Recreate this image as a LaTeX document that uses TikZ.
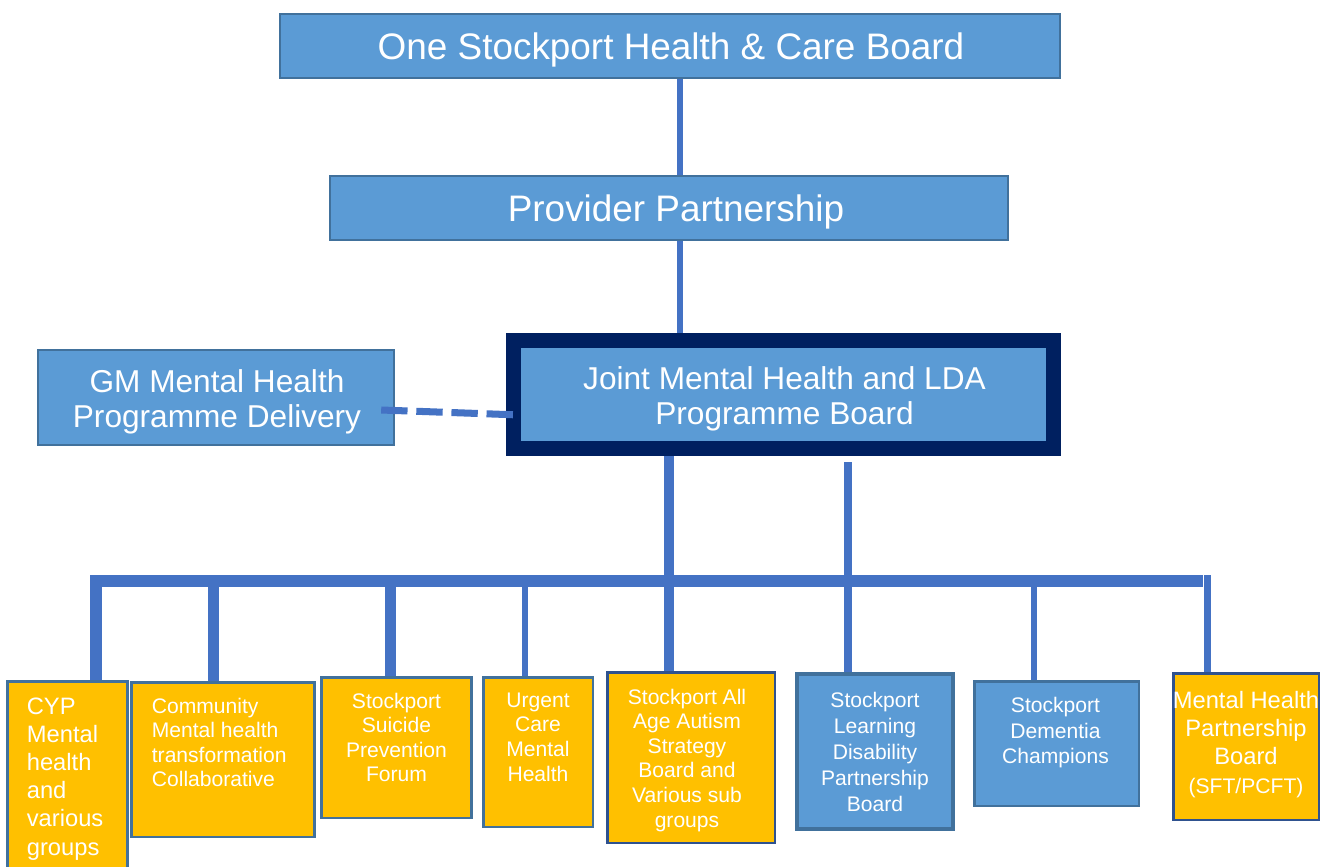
\documentclass[tikz,border=0pt]{standalone}
\usepackage{fontspec}
\setmainfont{Liberation Sans}
\usetikzlibrary{calc}

\definecolor{boxblue}{HTML}{5B9BD5}
\definecolor{boxedge}{HTML}{41719C}
\definecolor{darkedge}{HTML}{2F528F}
\definecolor{gold}{HTML}{FFC000}
\definecolor{linkblue}{HTML}{4472C4}
\definecolor{navy}{HTML}{002060}

\tikzset{
  board/.style={draw=boxedge, line width=1.4pt, fill=boxblue, inner sep=0pt},
  subbox/.style={draw=boxedge, line width=1.7pt, fill=gold, inner sep=0pt},
  title/.style={text=white, inner sep=0pt, align=center},
  lbl/.style={text=white, inner sep=0pt, align=center, anchor=north, font=\fontsize{12}{14}\selectfont},
  link/.style={draw=linkblue, line width=3.4pt},
}

\begin{document}
\begin{tikzpicture}[x=0.02cm, y=-0.02cm]
\useasboundingbox (0,0) rectangle (1325,866);

% boards at the top
\node[board, minimum width=15.6cm, minimum height=1.28cm] (top) at (670,46) {};
\node[board, minimum width=13.56cm, minimum height=1.28cm] (provider) at (669,208) {};
\node[board, draw=navy, line width=8.5pt, minimum width=10.8cm, minimum height=2.16cm] (joint) at (783.5,394.5) {};
\node[board, minimum width=7.12cm, minimum height=1.9cm] (gm) at (216,397.5) {};

\node[title, font=\fontsize{21}{25}\selectfont] (toptxt) at ($(top.center)+(1,4)$) {One Stockport Health \& Care Board};
\node[title, font=\fontsize{21}{25}\selectfont] (providertxt) at ($(provider.center)+(7,4)$) {Provider Partnership};
\node[title, font=\fontsize{18}{20}\selectfont] (jointtxt) at ($(joint.center)+(1,4)$) {Joint Mental Health and LDA\\Programme Board};
\node[title, font=\fontsize{18}{20}\selectfont] (gmtxt) at ($(gm.center)+(1,4)$) {GM Mental Health\\Programme Delivery};

% groups along the bottom
\node[subbox, minimum width=2.42cm, minimum height=3.78cm] (cyp) at (67.5,775.5) {};
\node[subbox, minimum width=3.68cm, minimum height=3.1cm] (comm) at (223,759.5) {};
\node[subbox, minimum width=3.02cm, minimum height=2.82cm] (suicide) at (396.5,747.5) {};
\node[subbox, minimum width=2.2cm, minimum height=3.0cm] (urgent) at (538,752) {};
\node[subbox, draw=darkedge, minimum width=3.36cm, minimum height=3.42cm] (autism) at (691,757.5) {};
\node[board, line width=2pt, minimum width=3.12cm, minimum height=3.1cm] (ld) at (875,751.5) {};
\node[board, line width=1.7pt, minimum width=3.3cm, minimum height=2.5cm] (dementia) at (1056.5,743.5) {};
\node[subbox, draw=darkedge, minimum width=2.92cm, minimum height=2.94cm] (mh) at (1246,746.5) {};

\node[lbl, anchor=north west, align=left, font=\fontsize{13.5}{16}\selectfont] (cyptxt) at ($(cyp.north west)+(21,18)$) {CYP\\Mental\\health\\and\\various\\groups};
\node[lbl, anchor=north west, align=left] (commtxt) at ($(comm.north west)+(22,17)$) {Community\\Mental health\\transformation\\Collaborative};
\node[lbl] (suicidetxt) at ($(suicide.north)+(0,17)$) {Stockport\\Suicide\\Prevention\\Forum};
\node[lbl] (urgenttxt) at ($(urgent.north)+(0,17)$) {Urgent\\Care\\Mental\\Health};
\node[lbl] (autismtxt) at ($(autism.north)+(-4,18)$) {Stockport All\\Age Autism\\Strategy\\Board and\\Various sub\\groups};
\node[lbl, font=\fontsize{12}{14.7}\selectfont] (ldtxt) at ($(ld.north)+(0,20)$) {Stockport\\Learning\\Disability\\Partnership\\Board};
\node[lbl, font=\fontsize{12}{14.5}\selectfont] (dementiatxt) at ($(dementia.north)+(-1,17.5)$) {Stockport\\Dementia\\Champions};
\node[lbl, font=\fontsize{13.5}{16.2}\selectfont] (mhtxt) at ($(mh.north)+(0,19)$) {Mental Health\\Partnership\\Board\\{\fontsize{12}{14}\selectfont (SFT/PCFT)}};

% connectors
\draw[link] ($(top.south)+(10,0)$) -- ($(top.south |- provider.north)+(10,0)$);
\draw[link] ($(provider.south)+(11,0)$) -- ($(provider.south |- joint.north)+(11,0)$);
\draw[link, line width=4pt, dash pattern=on 15pt off 5pt] ($(gm.east)+(-14,12.5)$) -- ($(joint.west)+(14,20.5)$);

\draw[link, line width=5.7pt] ($(autism.north)+(-22,0)$) -- ($(autism.north |- joint.south)+(-22,0)$);
\draw[link, line width=4.6pt] ($(ld.north)+(-27,0)$) -- ($(ld.north |- joint.south)+(-27,6)$);

\coordinate (busend) at (1203,581);
\draw[link, line width=6.8pt] ($(cyp.north)+(28.5,0)$) |- (busend);
\foreach \b/\dx/\w in {comm/-9.5/6.3, suicide/-6/6.3, urgent/-13/3.4, dementia/-22.5/3.4, mh/-39/4}
  \draw[link, line width=\w pt] ($(\b.north)+(\dx,0)$) -- ($(\b.north |- busend)+(\dx,-6)$);
\end{tikzpicture}
\end{document}
